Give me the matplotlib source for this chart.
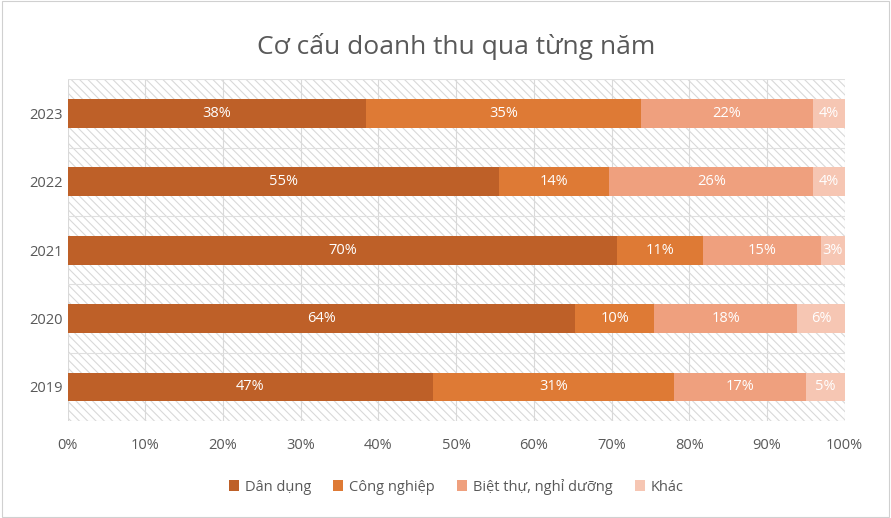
import matplotlib
matplotlib.use('Agg')
import matplotlib.pyplot as plt
import numpy as np
from matplotlib.patches import Rectangle

plt.rcParams['font.family'] = 'Open Sans'
plt.rcParams['hatch.color'] = '#d9d9d9'
plt.rcParams['hatch.linewidth'] = 0.8

years = ['2019', '2020', '2021', '2022', '2023']
dan_dung = [47, 64, 70, 55, 38]
cong_nghiep = [31, 10, 11, 14, 35]
biet_thu = [17, 18, 15, 26, 22]
khac = [5, 6, 3, 4, 4]

series = [('Dân dụng', dan_dung, '#BE6028'),
          ('Công nghiệp', cong_nghiep, '#DE7A35'),
          ('Biệt thự, nghỉ dưỡng', biet_thu, '#EFA07E'),
          ('Khác', khac, '#F6C6B3')]

totals = np.sum([s[1] for s in series], axis=0)

fig = plt.figure(figsize=(8.91, 5.18), dpi=100)
ax = fig.add_axes([0.076, 0.187, 0.872, 0.66])
fig.patches.append(Rectangle((0.002, 0.002), 0.996, 0.996, transform=fig.transFigure,
                             fill=False, edgecolor='#d0d0d0', linewidth=0.8))

ax.add_patch(Rectangle((0, 0), 1, 1, transform=ax.transAxes, facecolor='white',
                       hatch='\\\\\\\\', edgecolor='#d9d9d9', linewidth=0, zorder=0))

y = np.arange(len(years))
left = np.zeros(len(years))
for name, vals, color in series:
    w = np.array(vals) / totals
    ax.barh(y, w, left=left, height=0.42, color=color, label=name, zorder=3)
    for yi, li, wi, v in zip(y, left, w, vals):
        ax.text(li + wi / 2, yi, f'{v}%', ha='center', va='center',
                color='white', fontsize=10.5, zorder=4)
    left += w

ax.set_xlim(0, 1)
ax.set_ylim(-0.5, len(years) - 0.5)
ax.set_xticks(np.arange(0, 1.01, 0.1))
ax.set_xticklabels([f'{int(round(t * 100))}%' for t in np.arange(0, 1.01, 0.1)])
ax.set_yticks(y)
ax.set_yticklabels(years)
ax.set_yticks(np.arange(-0.5, len(years), 0.5), minor=True)
ax.grid(True, axis='x', color='#d9d9d9', linewidth=0.8, zorder=1)
ax.grid(True, axis='y', which='minor', color='#e0e0e0', linewidth=0.8, zorder=1)
ax.tick_params(axis='both', which='both', length=0, labelsize=10.5, colors='#595959')
ax.tick_params(axis='x', pad=12)
for sp in ax.spines.values():
    sp.set_visible(False)

ax.set_title('Cơ cấu doanh thu qua từng năm', fontsize=19, color='#595959', pad=18)

ax.legend(loc='upper center', bbox_to_anchor=(0.5, -0.13), ncol=4, frameon=False,
          fontsize=10.5, labelcolor='#595959', handlelength=0.7, handleheight=0.7,
          columnspacing=1.5, handletextpad=0.4)

fig.savefig('out.png', dpi=100)
